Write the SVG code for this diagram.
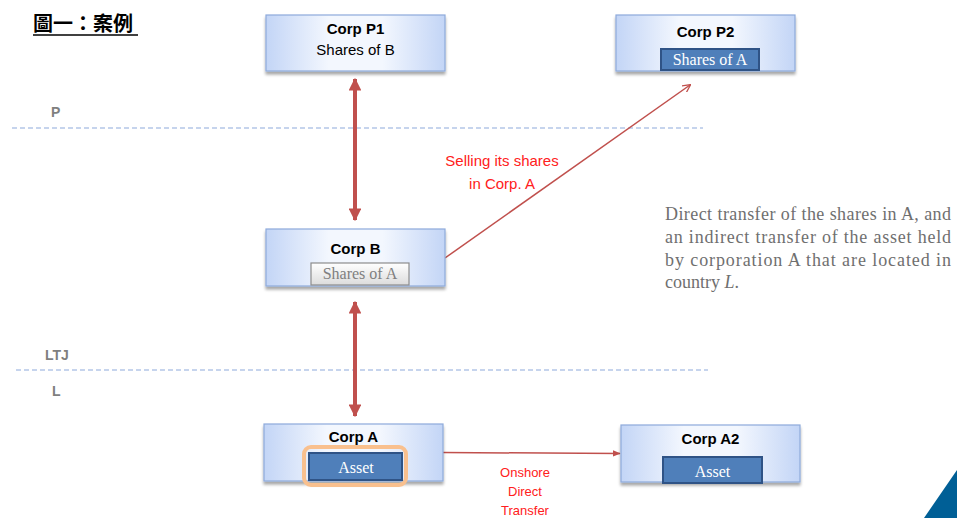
<svg xmlns="http://www.w3.org/2000/svg" width="957" height="518" viewBox="0 0 957 518">
  <defs>
    <linearGradient id="boxFill" x1="0" y1="0" x2="1" y2="0">
      <stop offset="0" stop-color="#c3d5f6"/>
      <stop offset="0.35" stop-color="#f3f7fe"/>
      <stop offset="0.65" stop-color="#f3f7fe"/>
      <stop offset="1" stop-color="#c3d5f6"/>
    </linearGradient>
    <linearGradient id="grayFill" x1="0" y1="0" x2="0" y2="1">
      <stop offset="0" stop-color="#ffffff"/>
      <stop offset="1" stop-color="#dcdcdc"/>
    </linearGradient>
    <filter id="shadow" x="-10%" y="-10%" width="120%" height="140%">
      <feGaussianBlur in="SourceAlpha" stdDeviation="1.5"/>
      <feOffset dx="0" dy="2.5"/>
      <feComponentTransfer><feFuncA type="linear" slope="0.35"/></feComponentTransfer>
      <feMerge><feMergeNode/><feMergeNode in="SourceGraphic"/></feMerge>
    </filter>
    <marker id="thickHead" viewBox="0 0 10 10" refX="9" refY="5" markerWidth="3.2" markerHeight="3.2" orient="auto-start-reverse" markerUnits="strokeWidth">
      <path d="M0,0 L10,5 L0,10 z" fill="#c0504d"/>
    </marker>
    <marker id="thinHead" viewBox="0 0 10 10" refX="9" refY="5" markerWidth="8" markerHeight="8" orient="auto" markerUnits="userSpaceOnUse">
      <path d="M0,0 L10,5 L0,10" fill="none" stroke="#c0504d" stroke-width="1.6"/>
    </marker>
    <marker id="solidHead" viewBox="0 0 10 10" refX="9" refY="5" markerWidth="8" markerHeight="8" orient="auto" markerUnits="userSpaceOnUse">
      <path d="M0,1 L10,5 L0,9 z" fill="#c0504d"/>
    </marker>
  </defs>
  <style>
    .box { fill: url(#boxFill); stroke: #8eaadb; stroke-width: 1.2; filter: url(#shadow); }
    .name { font-family: "Liberation Sans", Arial, sans-serif; font-weight: bold; font-size: 15px; fill: #000; text-anchor: middle; }
    .sub { font-family: "Liberation Sans", Arial, sans-serif; font-size: 15px; fill: #000; text-anchor: middle; }
    .chip { fill: #4f7fba; stroke: #2f5386; stroke-width: 2; }
    .chipText { font-family: "Liberation Serif", "DejaVu Serif", serif; font-size: 16px; fill: #ffffff; text-anchor: middle; }
    .grayChip { fill: url(#grayFill); stroke: #8c8c8c; stroke-width: 1.2; }
    .grayText { font-family: "Liberation Serif", "DejaVu Serif", serif; font-size: 16px; fill: #7f7f7f; text-anchor: middle; }
    .zone { font-family: "Liberation Sans", Arial, sans-serif; font-weight: bold; font-size: 14px; fill: #7f7f7f; }
    .divider { stroke: #8eaadb; stroke-width: 1.2; stroke-dasharray: 5 3; fill: none; }
    .label { font-family: "Liberation Sans", Arial, sans-serif; font-size: 15px; fill: #ff2020; text-anchor: middle; }
    .labelSmall { font-family: "Liberation Sans", Arial, sans-serif; font-size: 13px; fill: #ff2020; text-anchor: middle; }
    .note { font-family: "Liberation Serif", "DejaVu Serif", serif; font-size: 18px; fill: #6f6f6f; }
    .thick { stroke: #c0504d; stroke-width: 4; fill: none; marker-start: url(#thickHead); marker-end: url(#thickHead); }
  </style>

  <rect width="957" height="518" fill="#ffffff"/>

  <!-- heading -->
  <text x="33" y="31" font-family="'Noto Sans CJK TC', 'Noto Sans CJK SC', sans-serif" font-weight="bold" font-size="20" fill="#000">圖一：案例</text>
  <line x1="33" y1="35" x2="138" y2="35" stroke="#000" stroke-width="1.5"/>

  <!-- jurisdiction dividers -->
  <g id="zones">
    <line class="divider" x1="12" y1="128" x2="703" y2="128"/>
    <line class="divider" x1="16" y1="370" x2="708" y2="370"/>
    <text class="zone" x="51" y="117">P</text>
    <text class="zone" x="45" y="360">LTJ</text>
    <text class="zone" x="52" y="396">L</text>
  </g>

  <!-- connectors -->
  <g id="connectors">
    <line class="thick" x1="355" y1="79" x2="355" y2="220"/>
    <line class="thick" x1="355" y1="302" x2="355" y2="416"/>
    <line x1="445" y1="258" x2="690" y2="85" stroke="#c0504d" stroke-width="1.5" marker-end="url(#thinHead)"/>
    <line x1="443" y1="452.5" x2="620" y2="453.5" stroke="#c0504d" stroke-width="1.5" marker-end="url(#solidHead)"/>
    <text class="label" x="502" y="166">Selling its shares</text>
    <text class="label" x="502" y="189">in Corp. A</text>
    <text class="labelSmall" x="525" y="477">Onshore</text>
    <text class="labelSmall" x="525" y="496">Direct</text>
    <text class="labelSmall" x="525" y="515">Transfer</text>
  </g>

  <!-- Corp P1 -->
  <g id="corp-p1">
    <rect class="box" x="266" y="15" width="179" height="56"/>
    <text class="name" x="355.5" y="34">Corp P1</text>
    <text class="sub" x="355.5" y="55">Shares of B</text>
  </g>

  <!-- Corp P2 -->
  <g id="corp-p2">
    <rect class="box" x="616" y="15" width="179" height="56"/>
    <text class="name" x="705.5" y="37">Corp P2</text>
    <rect class="chip" x="661" y="49" width="98" height="21"/>
    <text class="chipText" x="710" y="65">Shares of A</text>
  </g>

  <!-- Corp B -->
  <g id="corp-b">
    <rect class="box" x="266" y="229" width="179" height="57"/>
    <text class="name" x="355.5" y="254">Corp B</text>
    <rect class="grayChip" x="311" y="263" width="98" height="22"/>
    <text class="grayText" x="360" y="279">Shares of A</text>
  </g>

  <!-- Corp A -->
  <g id="corp-a">
    <rect class="box" x="264" y="424" width="179" height="57"/>
    <text class="name" x="353.5" y="442">Corp A</text>
    <rect x="304" y="447" width="102" height="38" rx="7" fill="none" stroke="#f9c08e" stroke-width="4"/>
    <rect class="chip" x="309" y="453" width="93" height="27"/>
    <text class="chipText" x="356" y="473" font-size="18">Asset</text>
  </g>

  <!-- Corp A2 -->
  <g id="corp-a2">
    <rect class="box" x="621" y="425" width="179" height="57"/>
    <text class="name" x="710.5" y="444">Corp A2</text>
    <rect class="chip" x="663" y="457" width="99" height="26"/>
    <text class="chipText" x="712.5" y="477" font-size="18">Asset</text>
  </g>

  <!-- explanatory note -->
  <g id="note">
    <text class="note" x="665" y="220" textLength="286" lengthAdjust="spacing">Direct transfer of the shares in A, and</text>
    <text class="note" x="665" y="243" textLength="286" lengthAdjust="spacing">an indirect transfer of the asset held</text>
    <text class="note" x="665" y="266" textLength="286" lengthAdjust="spacing">by corporation A that are located in</text>
    <text class="note" x="665" y="288">country <tspan font-style="italic">L</tspan>.</text>
  </g>

  <!-- corner accent -->
  <polygon points="924,518 957,470 957,518" fill="#005f96"/>
</svg>
